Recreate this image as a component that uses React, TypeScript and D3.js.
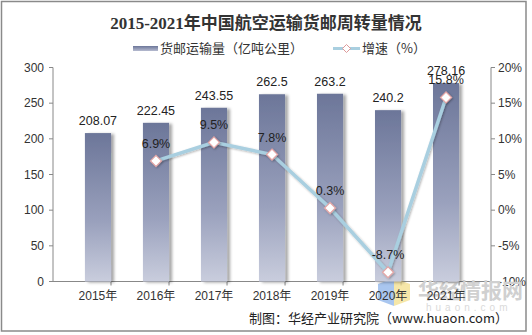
import React from "react";
import * as d3 from "d3";

const years = ["2015年", "2016年", "2017年", "2018年", "2019年", "2020年", "2021年"];
const volume = [208.07, 222.45, 243.55, 262.5, 263.2, 240.2, 278.16];
const volumeLabels = ["208.07", "222.45", "243.55", "262.5", "263.2", "240.2", "278.16"];
const growth: (number | null)[] = [null, 6.9, 9.5, 7.8, 0.3, -8.7, 15.8];
const leftTicks = [0, 50, 100, 150, 200, 250, 300];
const rightTicks = [-10, -5, 0, 5, 10, 15, 20];

const W = 532, H = 335;
const left = 53, right = 491, top = 67.5, bottom = 281.5;
const sans = "'Liberation Sans', Arial, 'Noto Sans CJK SC', sans-serif";
const cjk = "'Noto Sans CJK SC', 'Liberation Sans', sans-serif";

export default function App() {
  const x = d3.scaleBand<string>().domain(years).range([left, right]).padding(0.55);
  const y = d3.scaleLinear().domain([0, 300]).range([bottom, top]);
  const y2 = d3.scaleLinear().domain([-10, 20]).range([bottom, top]);
  const cx = (i: number) => (x(years[i]) as number) + x.bandwidth() / 2;
  const pts = growth.map((g, i) => (g == null ? null : ([cx(i), y2(g)] as [number, number]))).filter(Boolean) as [number, number][];
  const line = d3.line<[number, number]>().x((d) => d[0]).y((d) => d[1]);
  const diamond = (px: number, py: number, r = 5) => `M${px},${py - r}L${px + r},${py}L${px},${py + r}L${px - r},${py}Z`;
  const step = x.step();

  return (
    <svg width={W} height={H} style={{ position: "absolute", left: 0, top: 0, background: "#fff" }}>
      <defs>
        <linearGradient id="barG" x1="0" y1="0" x2="0" y2="1">
          <stop offset="0" stopColor="#6c7699" />
          <stop offset="0.6" stopColor="#9aa1bd" />
          <stop offset="1" stopColor="#c9cddd" />
        </linearGradient>
        <linearGradient id="legG" x1="0" y1="0" x2="0" y2="1">
          <stop offset="0" stopColor="#6c7699" />
          <stop offset="1" stopColor="#b6bbd0" />
        </linearGradient>
        <filter id="sh" x="-30%" y="-10%" width="160%" height="120%">
          <feDropShadow dx="3" dy="1" stdDeviation="1.8" floodColor="#000" floodOpacity="0.35" />
        </filter>
        <filter id="glow" x="-50%" y="-50%" width="200%" height="200%">
          <feDropShadow dx="1" dy="1" stdDeviation="1" floodColor="#000" floodOpacity="0.3" />
        </filter>
      </defs>
      <rect x={1.5} y={1.5} width={524.5} height={329.5} fill="#fff" stroke="#8a8a8a" strokeWidth={1.5} />

      <text x={266} y={29} textAnchor="middle" fontSize={17} fontWeight="bold" fill="#333"
        fontFamily="'Liberation Serif', 'Noto Sans CJK SC', serif">2015-2021年中国航空运输货邮周转量情况</text>

      {/* legend */}
      <rect x={133} y={46} width={25} height={5} fill="url(#legG)" />
      <text x={160} y={53} fontSize={13} fill="#333" fontFamily={cjk}>货邮运输量（亿吨公里）</text>
      <line x1={333} x2={360} y1={48.5} y2={48.5} stroke="#a9cfe0" strokeWidth={3} />
      <path d={diamond(346.5, 48.5, 4)} fill="#fff" stroke="#d99" strokeWidth={1} />
      <text x={362} y={53} fontSize={13} fill="#333" fontFamily={cjk}>增速（%）</text>

      {/* axes */}
      <line x1={left} x2={left} y1={top} y2={bottom} stroke="#888" />
      <line x1={right} x2={right} y1={top} y2={bottom} stroke="#888" />
      <line x1={left} x2={right} y1={bottom} y2={bottom} stroke="#888" />
      {leftTicks.map((t) => (
        <g key={"l" + t}>
          <line x1={left - 4} x2={left} y1={y(t)} y2={y(t)} stroke="#888" />
          <text x={left - 9} y={y(t) + 4} textAnchor="end" fontSize={12} fill="#333" fontFamily={sans}>{t}</text>
        </g>
      ))}
      {rightTicks.map((t) => (
        <g key={"r" + t}>
          <line x1={right} x2={right + 4} y1={y2(t)} y2={y2(t)} stroke="#888" />
          <text x={right + 7} y={y2(t) + 4} textAnchor="start" fontSize={12} fill="#333" fontFamily={sans}>{t + "%"}</text>
        </g>
      ))}
      {years.map((yr, i) => (
        <line key={"t" + i} x1={left + step * (i + 1)} x2={left + step * (i + 1)} y1={bottom} y2={bottom + 4} stroke="#888" />
      ))}

      {/* watermark */}
      <g opacity={0.75}>
        <polygon points="378,284 394,278 394,306 378,300" fill="#8db4ea" />
        <polygon points="394,278 410,284 410,300 394,306" fill="#f3df8c" />
      </g>
      <text x={418} y={298} fontSize={21} fontWeight="bold" fill="#d0d0d0" fontFamily={cjk}>华经情报网</text>
      <text x={426} y={311} fontSize={10} fill="#dadada" letterSpacing={4} fontFamily={sans}>huaon.com</text>

      {years.map((yr, i) => (
        <text key={"x" + i} x={cx(i)} y={300} textAnchor="middle" fontSize={12} fill="#333" fontFamily={sans}>{yr}</text>
      ))}

      {/* bars */}
      {volume.map((v, i) => (
        <rect key={"b" + i} x={x(years[i])} y={y(v)} width={x.bandwidth()} height={bottom - y(v)} fill="url(#barG)" filter="url(#sh)" />
      ))}
      {volume.map((v, i) => (
        <text key={"bl" + i} x={cx(i)} y={y(v) - 8} textAnchor="middle" fontSize={12.5} fill="#222" fontFamily={sans}>{volumeLabels[i]}</text>
      ))}

      {/* line */}
      <path d={line(pts) as string} fill="none" stroke="#a9cfe0" strokeWidth={3.5} filter="url(#glow)" />
      {growth.map((g, i) =>
        g == null ? null : (
          <path key={"m" + i} d={diamond(cx(i), y2(g), 5.5)} fill="#fff" stroke="#e4a5a5" strokeWidth={1.2} filter="url(#glow)" />
        )
      )}
      {growth.map((g, i) =>
        g == null ? null : (
          <text key={"gl" + i} x={cx(i)} y={y2(g) - 13} textAnchor="middle" fontSize={12.5} fill="#222" fontFamily={sans}>{g.toFixed(1) + "%"}</text>
        )
      )}

      <text x={508} y={323} textAnchor="end" fontSize={13} fill="#222" fontFamily={cjk}>制图：华经产业研究院（www.huaon.com）</text>
    </svg>
  );
}
